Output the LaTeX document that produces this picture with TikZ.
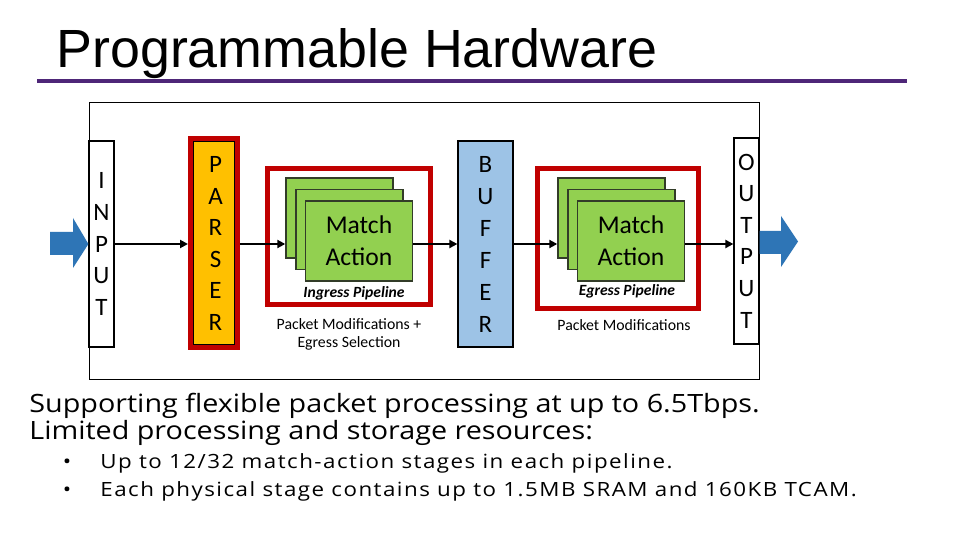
\documentclass[tikz,border=0pt]{standalone}
\usepackage{fontspec}
\setmainfont{Carlito}
\newfontfamily\titlefont{Liberation Sans}
\newfontfamily\bodyfont[FakeStretch=1.14]{Open Sans}
\newfontfamily\bulletfont[FakeStretch=1.14,LetterSpace=7.5]{Open Sans}
\usetikzlibrary{arrows.meta,calc}
\definecolor{hwpurple}{RGB}{78,38,120}
\definecolor{hwred}{RGB}{192,0,0}
\definecolor{hworange}{RGB}{255,192,0}
\definecolor{hwblue}{RGB}{157,195,230}
\definecolor{hwgreen}{RGB}{146,208,80}
\definecolor{hwgreenline}{RGB}{50,60,40}
\definecolor{hwarrow}{RGB}{46,117,182}
\tikzset{
  portbox/.style={draw=black, line width=0.6pt, fill=white, minimum width=12.5pt, minimum height=103pt, inner sep=0pt},
  letters/.style={align=center, font=\fontsize{12.5}{15.8}\selectfont, inner sep=0pt},
  redbox/.style={draw=hwred, line width=2.5pt, inner sep=0pt},
  mabox/.style={draw=hwgreenline, line width=0.7pt, fill=hwgreen, minimum width=53.5pt, minimum height=40pt, inner sep=0pt, align=center, font=\fontsize{12.8}{16}\selectfont},
  pipelabel/.style={font=\fontsize{7.8}{9}\selectfont\bfseries\itshape, inner sep=0pt, anchor=base},
  modlabel/.style={font=\fontsize{7.9}{9}\selectfont, inner sep=0pt, align=center, anchor=base},
  conn/.style={line width=1pt, -{Triangle[length=4pt,width=4pt]}},
  bigarrow/.style={fill=hwarrow},
  bodyline/.style={font=\fontsize{12.6}{14}\selectfont\bodyfont, anchor=base west, inner sep=0pt},
  bulletline/.style={font=\fontsize{9.8}{11}\selectfont\bulletfont, anchor=base west, inner sep=0pt},
}
\begin{document}
\begin{tikzpicture}[x=0.5pt, y=-0.5pt]
\useasboundingbox (0,0) rectangle (960,540);
\fill[white] (0,0) rectangle (960,540);
% title
\node[font=\fontsize{26.9}{30}\selectfont\titlefont, anchor=base west, inner sep=0pt] (title) at (56,68) {Programmable Hardware};
\draw[hwpurple, line width=1.6pt] (37,81) -- (907,81);
% main frame
\node[draw=black, line width=0.5pt, minimum width=335pt, minimum height=138pt, inner sep=0pt] (frame) at (424,241) {};
% input / output
\node[portbox] (input) at (101.5,244) {};
\node[letters] (inputtext) at (input.center) {I\\N\\P\\U\\T};
\node[portbox] (output) at (746.5,241) {};
\node[letters] (outputtext) at (output.center) {O\\U\\T\\P\\U\\T};
% parser
\node[draw=black, line width=0.6pt, fill=hworange, minimum width=20.75pt, minimum height=102pt, inner sep=0pt] (parserfill) at (214.25,243) {};
\node[redbox, minimum width=23.5pt, minimum height=104.5pt] (parser) at (214,243) {};
\node[letters] (parsertext) at (215.5,243.5) {P\\A\\R\\S\\E\\R};
% buffer
\node[draw=black, line width=0.6pt, fill=hwblue, minimum width=27.5pt, minimum height=103pt, inner sep=0pt] (buffer) at (485.5,244) {};
\node[letters, font=\fontsize{12.5}{16}\selectfont] (buffertext) at (buffer.center) {B\\U\\F\\F\\E\\R};
% ingress pipeline
\node[redbox, minimum width=81.5pt, minimum height=68pt] (ingress) at (349,236.5) {};
\node[mabox] (ing1) at (339.5,218) {};
\node[mabox] (ing2) at (349.5,229.5) {};
\node[mabox] (ing3) at (359,241) {Match\\Action};
\node[pipelabel] (inglabel) at (354,298) {Ingress Pipeline};
\node[modlabel] (ingmod) at (349,347) {Packet Modifications +\\Egress Selection};
% egress pipeline
\node[redbox, minimum width=80.5pt, minimum height=70pt] (egress) at (618,238.5) {};
\node[mabox] (eg1) at (611.5,218) {};
\node[mabox] (eg2) at (621.5,229.5) {};
\node[mabox] (eg3) at (631,241) {Match\\Action};
\node[pipelabel] (eglabel) at (627,296) {Egress Pipeline};
\node[modlabel] (egmod) at (624,330) {Packet Modifications};
% connectors
\draw[conn] (input.east) -- (input.east -| parser.west);
\draw[conn] (parser.east |- input.east) -- (ing1.west |- input.east);
\draw[conn] (ing3.east |- input.east) -- (buffer.west |- input.east);
\draw[conn] (buffer.east) -- (buffer.east -| eg1.west);
\draw[conn] (eg3.east |- buffer.east) -- (output.west |- buffer.east);
% big blue arrows
\fill[bigarrow] (50,232) -- (73,232) -- (73,218) -- (input.west) -- (73,268) -- (73,255) -- (50,255) -- cycle;
\fill[bigarrow] (output.east |- 0,231) -- (781,231) -- (781,216) -- (798,241.5) -- (781,267) -- (781,254) -- (output.east |- 0,254) -- cycle;
% bottom text
\node[bodyline] (line1) at (29,412) {Supporting flexible packet processing at up to 6.5Tbps.};
\node[bodyline] (line2) at (29,439) {Limited processing and storage resources:};
\node[bulletline, anchor=base] (b1) at (67,468) {•};
\node[bulletline] (line3) at (100,468) {Up to 12/32 match-action stages in each pipeline.};
\node[bulletline, anchor=base] (b2) at (67,496) {•};
\node[bulletline] (line4) at (100,496) {Each physical stage contains up to 1.5MB SRAM and 160KB TCAM.};
\end{tikzpicture}
\end{document}
